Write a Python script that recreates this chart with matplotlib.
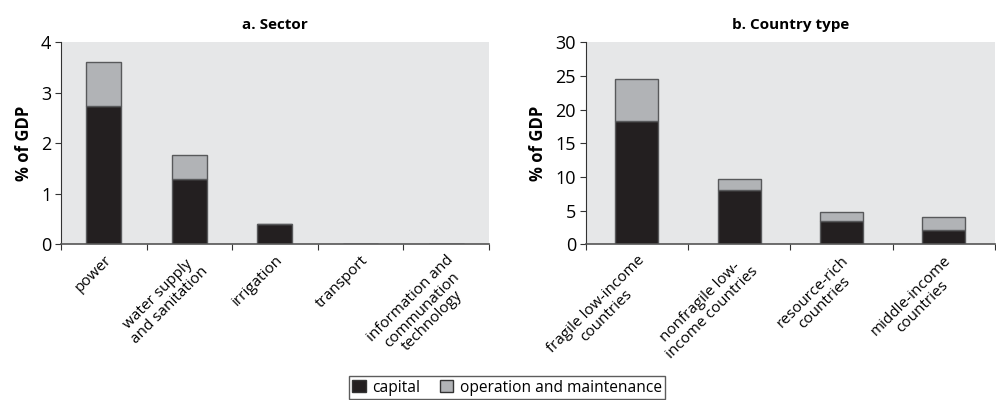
import matplotlib
matplotlib.use("Agg")
import matplotlib.pyplot as plt
import numpy as np
from matplotlib.patches import Patch

plt.rcParams['font.family'] = ['Open Sans', 'DejaVu Sans']

# panel a: sector
sectors = ['power', 'water supply\nand sanitation', 'irrigation', 'transport',
           'information and\ncommunation\ntechnology']
sector_capital = [2.75, 1.29, 0.41, 0.0, 0.0]
sector_om = [0.87, 0.48, 0.0, 0.0, 0.0]

# panel b: country type
countries = ['fragile low-income\ncountries', 'nonfragile low-\nincome countries',
             'resource-rich\ncountries', 'middle-income\ncountries']
country_capital = [18.3, 8.15, 3.5, 2.1]
country_om = [6.25, 1.5, 1.25, 1.95]

BG = '#e6e7e8'
CAP = '#231f20'
OM = '#b1b3b6'
EDGE = '#58595b'


def panel(ax, cats, cap, om, ymax, ystep, title, width):
    x = np.arange(len(cats))
    ax.bar(x, cap, width, color=CAP, edgecolor=EDGE, linewidth=1)
    ax.bar(x, om, width, bottom=cap, color=OM, edgecolor=EDGE, linewidth=1)
    ax.set_facecolor(BG)
    ax.set_xlim(-0.5, len(cats) - 0.5)
    ax.set_ylim(0, ymax)
    ax.set_yticks(np.arange(0, ymax + 0.01, ystep))
    ax.tick_params(axis='y', labelsize=13, length=4, color='#333333', pad=3)
    # ticks between categories, labels at centres
    ax.set_xticks(np.arange(len(cats) + 1) - 0.5)
    ax.set_xticklabels([])
    ax.set_xticks(x, minor=True)
    ax.set_xticklabels(cats, minor=True, rotation=45, ha='right',
                       rotation_mode='anchor', multialignment='center',
                       fontsize=11, linespacing=1.05)
    ax.tick_params(axis='x', which='major', length=4, color='#333333')
    ax.tick_params(axis='x', which='minor', length=0, pad=6)
    for s in ['top', 'right']:
        ax.spines[s].set_visible(False)
    ax.spines['left'].set_color('#333333')
    ax.spines['bottom'].set_color('#555555')
    ax.spines['bottom'].set_linewidth(1.2)
    ax.set_ylabel('% of GDP', fontsize=12, fontweight='bold', labelpad=6)
    ax.set_title(title, fontsize=11, fontweight='bold', pad=9.5)


fig = plt.figure(figsize=(9.96, 4.0), dpi=100)
ax1 = fig.add_axes([0.0612, 0.389, 0.4297, 0.505])
ax2 = fig.add_axes([0.588, 0.389, 0.411, 0.505])

panel(ax1, sectors, sector_capital, sector_om, 4, 1, 'a. Sector', 0.41)
panel(ax2, countries, country_capital, country_om, 30, 5, 'b. Country type', 0.42)

handles = [Patch(facecolor=CAP, edgecolor='#333333'),
           Patch(facecolor=OM, edgecolor='#333333')]
leg = fig.legend(handles, ['capital', 'operation and maintenance'], loc='center',
                 bbox_to_anchor=(0.509, 0.031), ncol=2, fontsize=11.2,
                 fancybox=False, frameon=True, handlelength=0.85, handleheight=0.85,
                 handletextpad=0.4, columnspacing=1.3, borderpad=0.25,
                 borderaxespad=0)
leg.get_frame().set_edgecolor('#333333')
leg.get_frame().set_linewidth(1)

fig.savefig('out.png', dpi=100)
